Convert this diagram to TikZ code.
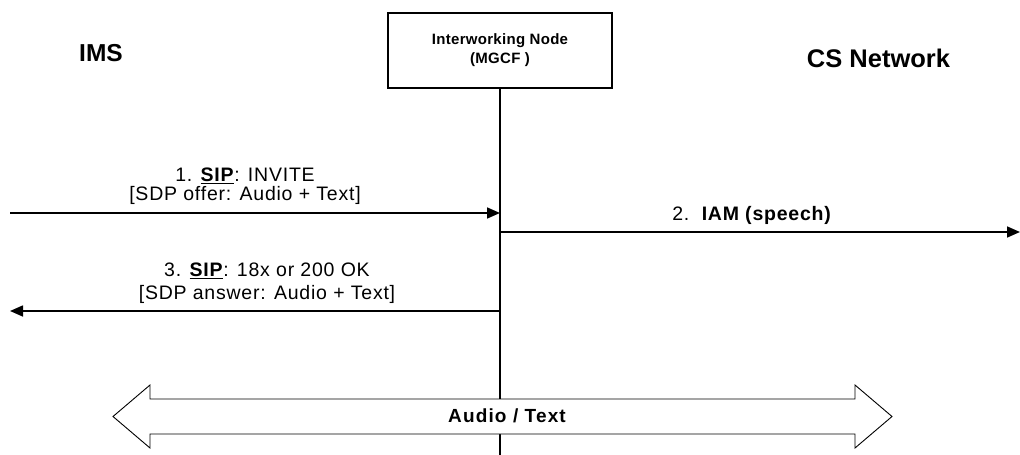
\documentclass[tikz,border=0pt]{standalone}
\usepackage{fontspec}
\setmainfont{Liberation Sans}
\usetikzlibrary{arrows.meta}
\begin{document}
\begin{tikzpicture}[x=1pt,y=-1pt,
  msg/.style={line width=1.6pt,-{Triangle[length=13pt,width=11pt]}},
  lbl/.style={font=\fontsize{19.5}{19}\selectfont\addfontfeature{LetterSpace=4},align=center,inner sep=0pt},
  side/.style={font=\fontsize{25.5}{27}\selectfont\bfseries,inner sep=0pt}]
\useasboundingbox (0,0) rectangle (1020,455);
\fill[white] (0,0) rectangle (1020,455);
\node[side,font=\fontsize{24.5}{26}\selectfont\bfseries] (ims) at (101,53) {IMS};
\node[side] (cs) at (878.5,58) {CS Network};
\node[draw,line width=1.8pt,minimum width=224pt,minimum height=75pt,align=center,
  font=\fontsize{15}{19}\selectfont\bfseries\addfontfeature{LetterSpace=2},inner sep=0pt] (mgcf) at (500,50.5)
  {Interworking Node\\(MGCF )};
\coordinate (bot) at (mgcf.south |- 0,455);
\draw[line width=1.6pt] (mgcf.south) -- (bot);
% messages
\coordinate (a1s) at (10,213);
\coordinate (a1e) at (mgcf.south |- 0,213);
\draw[msg] (a1s) -- (a1e);
\node[lbl] (l1) at (245,186) {1. \underline{\textbf{SIP}}: INVITE\\{}[SDP offer: Audio + Text]};
\coordinate (a2s) at (mgcf.south |- 0,232);
\coordinate (a2e) at (1020,232);
\draw[msg] (a2s) -- (a2e);
\node[lbl] (l2) at (752,215) {2.\ \ \textbf{IAM (speech)}};
\coordinate (a3s) at (mgcf.south |- 0,311);
\coordinate (a3e) at (10,311);
\draw[msg] (a3s) -- (a3e);
\node[lbl,font=\fontsize{19.5}{22.5}\selectfont\addfontfeature{LetterSpace=4}] (l3) at (267,283) {3. \underline{\textbf{SIP}}: 18x or 200 OK\\{}[SDP answer: Audio + Text]};
% double arrow
\draw[line width=0.9pt,fill=white] (113,416.5) -- (150,385) -- (150,399) -- (855,399) -- (855,385)
  -- (892,416.5) -- (855,448) -- (855,434) -- (150,434) -- (150,448) -- cycle;
\node[font=\fontsize{19}{21}\selectfont\bfseries\addfontfeature{LetterSpace=6},inner sep=0pt] (at) at (507,416) {Audio / Text};
\end{tikzpicture}
\end{document}
